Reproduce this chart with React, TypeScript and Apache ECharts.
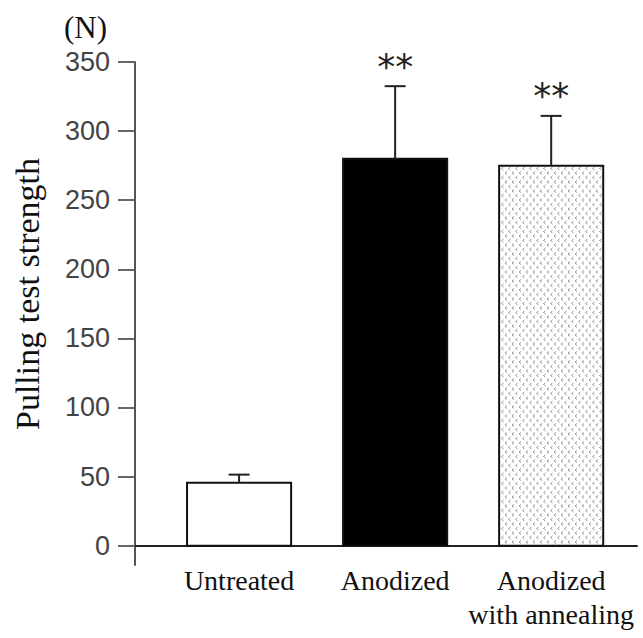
import React, { useEffect, useRef } from "react";
import * as echarts from "echarts";

const categories = ["Untreated", "Anodized", "Anodized\nwith annealing"];
const means = [45.6, 280, 275];
const sd = [5.8, 52.5, 36];
const significance = ["", "**", "**"];
const yTicks = [0, 50, 100, 150, 200, 250, 300, 350];
const xPositions = [0, 1, 2];

function makePattern(): HTMLCanvasElement {
  const c = document.createElement("canvas");
  c.width = 7;
  c.height = 9;
  const ctx = c.getContext("2d")!;
  ctx.fillStyle = "#ffffff";
  ctx.fillRect(0, 0, 7, 9);
  ctx.strokeStyle = "#9a9a9a";
  ctx.lineWidth = 1;
  const chevron = (x: number, y: number) => {
    ctx.beginPath();
    ctx.moveTo(x + 2, y);
    ctx.lineTo(x, y + 1.5);
    ctx.lineTo(x + 2, y + 3);
    ctx.stroke();
  };
  chevron(1, 0.5);
  chevron(4.5, 5);
  return c;
}

export default function App() {
  const ref = useRef<HTMLDivElement>(null);
  useEffect(() => {
    if (!ref.current) return;
    const chart = echarts.init(ref.current, null, { renderer: "svg" });
    const pattern = makePattern();
    const fills: any[] = [
      "#ffffff",
      "#000000",
      { image: pattern, repeat: "repeat" },
    ];
    const data = xPositions.map((x, i) => [x, means[i], means[i] + sd[i]]);
    const BAR_W = 0.667;
    chart.setOption({
      animation: false,
      backgroundColor: "#ffffff",
      grid: {
        left: 135,
        right: 6,
        top: 62,
        bottom: 73,
        containLabel: false,
        outerBoundsMode: "none",
      },
      xAxis: {
        type: "value",
        min: -0.667,
        max: 2.55,
        axisLine: { show: true, onZero: true, lineStyle: { color: "#222", width: 2 } },
        axisTick: { show: false },
        splitLine: { show: false },
        axisLabel: {
          customValues: xPositions,
          formatter: (v: number) => categories[Math.round(v)] ?? "",
          fontFamily: "Liberation Serif",
          fontSize: 28,
          lineHeight: 34,
          color: "#111",
          margin: -2,
        },
      },
      yAxis: {
        type: "value",
        min: -14,
        max: 350,
        axisLine: { show: true, onZero: false, lineStyle: { color: "#555", width: 2 } },
        axisTick: {
          show: true,
          customValues: yTicks,
          length: 17,
          lineStyle: { color: "#666", width: 2 },
        },
        splitLine: { show: false },
        axisLabel: {
          customValues: yTicks,
          fontFamily: "Liberation Sans",
          fontSize: 27,
          color: "#444",
          margin: 25,
        },
      },
      graphic: [
        {
          type: "text",
          left: 64,
          top: 12,
          style: { text: "(N)", font: "31px 'Liberation Serif'", fill: "#111" },
        },
        {
          type: "text",
          x: 27,
          y: 294,
          rotation: Math.PI / 2,
          style: {
            text: "Pulling test strength",
            font: "34px 'Liberation Serif'",
            fill: "#111",
            align: "center",
            verticalAlign: "middle",
          },
        },
      ],
      series: [
        {
          type: "custom",
          data,
          clip: false,
          renderItem: (params: any, api: any) => {
            const i = params.dataIndex;
            const x = api.value(0);
            const base = api.coord([x, 0]);
            const top = api.coord([x, api.value(1)]);
            const errTop = api.coord([x, api.value(2)]);
            const w = api.size([BAR_W, 0])[0];
            const cap = 21;
            return {
              type: "group",
              children: [
                {
                  type: "rect",
                  shape: { x: top[0] - w / 2, y: top[1], width: w, height: base[1] - top[1] },
                  style: { fill: fills[i], stroke: "#111", lineWidth: 2 },
                },
                {
                  type: "line",
                  shape: { x1: top[0], y1: top[1], x2: top[0], y2: errTop[1] },
                  style: { stroke: "#222", lineWidth: 2 },
                },
                {
                  type: "line",
                  shape: { x1: top[0] - cap / 2, y1: errTop[1], x2: top[0] + cap / 2, y2: errTop[1] },
                  style: { stroke: "#222", lineWidth: 2 },
                },
                {
                  type: "text",
                  x: top[0],
                  y: errTop[1] - 2,
                  style: {
                    text: significance[i],
                    font: "36px 'DejaVu Sans'",
                    fill: "#222",
                    align: "center",
                    verticalAlign: "bottom",
                  },
                },
              ],
            };
          },
        },
      ],
    });
    return () => chart.dispose();
  }, []);
  return (
    <div
      ref={ref}
      style={{ position: "fixed", left: 0, top: 0, width: 643, height: 638 }}
    />
  );
}
